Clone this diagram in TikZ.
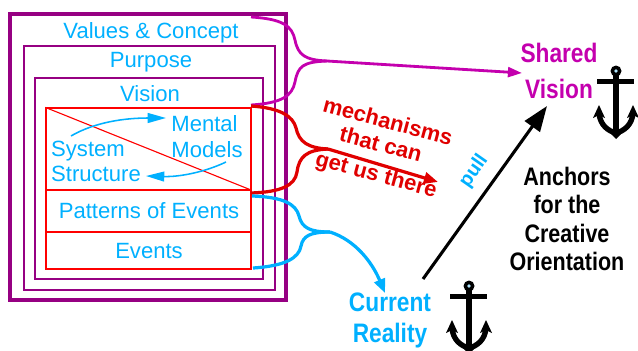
\documentclass[tikz,border=0pt]{standalone}
\usepackage{fontspec}
\setmainfont{Liberation Sans}
\newfontfamily\condfont[FakeStretch=0.85]{Liberation Sans}
\usetikzlibrary{arrows.meta}
\definecolor{framepurple}{HTML}{960082}
\definecolor{sharedmagenta}{HTML}{C400AE}
\definecolor{skyblue}{HTML}{00B0FF}
\definecolor{mechred}{HTML}{E00000}
\tikzset{
  framebox/.style={draw=framepurple, line width=1.5pt, inner sep=0pt},
  redbox/.style={draw=red, line width=0.8pt, inner sep=0pt},
  layertext/.style={text=skyblue, font=\fontsize{15.7}{16}\selectfont, inner sep=0pt},
  mechtext/.style={text=mechred, font=\fontsize{15.6}{16}\selectfont\bfseries, inner sep=0pt, rotate=-15},
  headtext/.style={font=\condfont\fontsize{19}{19}\selectfont\bfseries, inner sep=0pt},
  pics/anchorsign/.style={code={
    \fill[black] (0,0) circle (5.5);
    \fill[skyblue!30] (0,0) circle (1.8);
    \fill[black] (-19,7.5) rectangle (18,12.5);
    \fill[black] (-3,4) rectangle (3,60);
    \draw[black, line width=3.8pt] (-17,42) .. controls (-16,54) and (-8,60) .. (0,62) .. controls (8,60) and (16,54) .. (17,42);
    \fill[black] (-17,34) -- (-23,47) -- (-17,44) -- (-11,47) -- cycle;
    \fill[black] (17,34) -- (11,47) -- (17,44) -- (23,47) -- cycle;
    \fill[black] (-6,62) -- (0,68) -- (6,62) -- cycle;
  }}
}
\begin{document}
\begin{tikzpicture}[x=0.025cm,y=-0.025cm]
  \useasboundingbox (0,0) rectangle (638,350);
  % nested frames
  \node[framebox, line width=2.2pt, minimum width=6.9cm, minimum height=7.15cm] (values) at (148,157) {};
  \node[framebox, minimum width=6.275cm, minimum height=6.1cm] (purpose) at (149.5,168) {};
  \node[framebox, minimum width=5.7cm, minimum height=5.025cm] (vision) at (149,178.5) {};
  \node[redbox, minimum width=5.125cm, minimum height=4.025cm] (inner) at (148.5,188.5) {};
  \coordinate (splitA) at (46,190);
  \coordinate (splitB) at (251,190);
  \coordinate (splitC) at (46,232);
  \coordinate (splitD) at (251,232);
  \draw[red, line width=0.8pt] (splitA) -- (splitB);
  \draw[red, line width=0.8pt] (splitC) -- (splitD);
  \draw[red, line width=0.8pt] (inner.north west) -- (splitB);

  \node[layertext] (valuestext) at (151,32.5) {Values \& Concept};
  \node[layertext] (purposetext) at (151,62.5) {Purpose};
  \node[layertext] (visiontext) at (150,94) {Vision};
  \node[layertext] (mentaltext) at (204.5,123.5) {Mental};
  \node[layertext] (modelstext) at (207,150) {Models};
  \node[layertext] (systemtext) at (88,151.5) {System};
  \node[layertext] (structuretext) at (96,174) {Structure};
  \node[layertext] (patternstext) at (149,211) {Patterns of Events};
  \node[layertext] (eventstext) at (149,251) {Events};

  % loop between the models
  \coordinate (loopA) at (71,136);
  \coordinate (loopB) at (166,118);
  \coordinate (loopC) at (226,162);
  \coordinate (loopD) at (146,176);
  \draw[skyblue, line width=1.1pt, -{Triangle[length=13pt,width=7pt]}] (loopA) .. controls (95,122) and (125,118) .. (loopB);
  \draw[skyblue, line width=1.1pt, -{Triangle[length=13pt,width=7pt]}] (loopC) .. controls (205,172) and (180,177) .. (loopD);

  % braces
  \coordinate (sharedA) at (251,17);
  \coordinate (sharedB) at (251,105);
  \coordinate (sharedC) at (327,61);
  \coordinate (sharedD) at (522,73);
  \draw[sharedmagenta, line width=2pt] (sharedA) .. controls (283,19) and (292,26) .. (295,40) .. controls (298,55) and (305,60) .. (sharedC);
  \draw[sharedmagenta, line width=2pt] (sharedB) .. controls (282,103) and (292,96) .. (295,82) .. controls (298,66) and (303,62) .. (sharedC);
  \draw[sharedmagenta, line width=2pt, -{Triangle[length=10pt,width=7pt]}] (sharedC) -- (sharedD);

  \coordinate (mechA) at (251,106);
  \coordinate (mechB) at (251,193);
  \coordinate (mechC) at (328,149);
  \coordinate (mechD) at (438,182);
  \draw[mechred, line width=2.3pt] (mechA) .. controls (280,108) and (293,116) .. (296,128) .. controls (299,142) and (308,148) .. (mechC);
  \draw[mechred, line width=2.3pt] (mechB) .. controls (280,192) and (295,186) .. (297,172) .. controls (299,157) and (306,150) .. (mechC);
  \draw[mechred, line width=2.3pt, -{Triangle[length=10pt,width=8pt]}] (mechC) -- (mechD);

  \coordinate (realA) at (252,196);
  \coordinate (realB) at (253,268);
  \coordinate (realC) at (330,232);
  \coordinate (realD) at (385,293);
  \draw[skyblue, line width=2.3pt] (realA) .. controls (283,197) and (296,204) .. (299,216) .. controls (302,228) and (310,232) .. (realC);
  \draw[skyblue, line width=2.3pt] (realB) .. controls (285,266) and (299,258) .. (301,246) .. controls (303,236) and (310,232) .. (realC);
  \draw[skyblue, line width=2.3pt, -{Triangle[length=10pt,width=8pt]}] (realC) .. controls (355,240) and (372,262) .. (realD);

  \node[mechtext] (mechline) at (388,121) {mechanisms};
  \node[mechtext] (thatline) at (381,144) {that can};
  \node[mechtext] (getline) at (376,176) {get us there};

  % the pull between the anchors
  \coordinate (pullA) at (423,279);
  \coordinate (pullB) at (547,106);
  \draw[black, line width=2.2pt, -{Triangle[length=18pt,width=13pt]}] (pullA) -- (pullB);
  \node[text=skyblue, font=\fontsize{14}{14}\selectfont\bfseries, inner sep=0pt, rotate=55] (pulltext) at (474,171) {pull};

  \node[headtext, text=sharedmagenta] (sharedtext) at (559,53) {Shared};
  \node[headtext, text=sharedmagenta] (visionhead) at (559,89) {Vision};
  \node[headtext, text=skyblue] (currenttext) at (390,302) {Current};
  \node[headtext, text=skyblue] (realitytext) at (390,336) {Reality};
  \node[headtext, align=center, font=\condfont\fontsize{18}{20}\selectfont\bfseries] (anchorstext) at (567,219) {Anchors\\for the\\Creative\\Orientation};

  \pic at (616,71) {anchorsign};
  \pic at (469,286) {anchorsign};
\end{tikzpicture}
\end{document}
